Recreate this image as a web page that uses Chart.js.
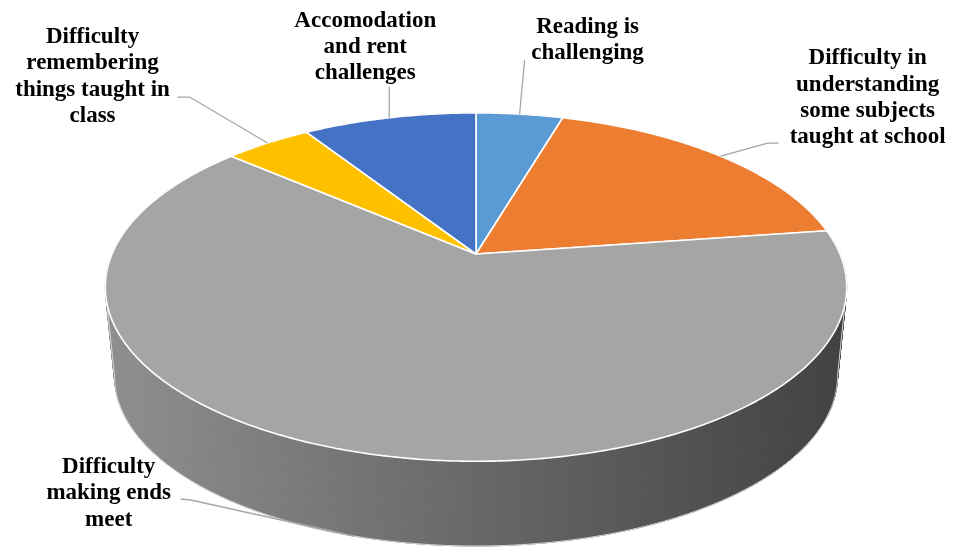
<!DOCTYPE html>
<html>
<head>
<meta charset="utf-8">
<script src="https://cdn.jsdelivr.net/npm/chart.js@4.4.0/dist/chart.umd.min.js"></script>
<style>
  html, body { margin: 0; padding: 0; background: #fff; }
  #wrap { width: 965px; height: 547px; }
</style>
</head>
<body>
<div id="wrap"><canvas id="pie"></canvas></div>
<script>
// slices, clockwise from 12 o'clock
const categories = [
  'Reading is challenging',
  'Difficulty in understanding some subjects taught at school',
  'Difficulty making ends meet',
  'Difficulty remembering things taught in class',
  'Accomodation and rent challenges'
];
const counts = [3, 12, 42, 3, 6];
const sliceColors = ['#5B9BD5', '#ED7D31', '#A5A5A5', '#FFC000', '#4472C4'];
const labelLines = [
  ['Reading is', 'challenging'],
  ['Difficulty in', 'understanding', 'some subjects', 'taught at school'],
  ['Difficulty', 'making ends', 'meet'],
  ['Difficulty', 'remembering', 'things taught in', 'class'],
  ['Accomodation', 'and rent', 'challenges']
];

// 3d look: ellipse radii as fractions of the pie radius, perspective and depth
const tilt = { rx: 1.433, ry: 0.661, persp: -0.19, depth: 0.354, bottomScale: 0.975 };

// label text (centre, first baseline) and leader elbows, relative to the slice anchor
const labelPlace = [
  { text: [68, -81], path: [[5, -54]] },
  { text: [147, -92], path: [[47, -13], [58, -13]] },
  { text: [-245, -63], path: [[-163, -36], [-173, -37]], onWall: true },
  { text: [-175, -100], path: [[-78, -46], [-90, -46]] },
  { text: [-24, -91], path: [[0, -31]] }
];

function project(cx, cy, R, ang, bottom) {
  const u = Math.cos(ang), v = Math.sin(ang);
  const d = 1 + tilt.persp * v;
  const s = bottom ? tilt.bottomScale : 1;
  const oy = bottom ? tilt.depth * R : 0;
  return [cx + s * tilt.rx * R * u / d, cy + oy + s * tilt.ry * R * v / d];
}

function shade(hex, f) {
  const n = parseInt(hex.slice(1), 16);
  const r = Math.round(((n >> 16) & 255) * f);
  const g = Math.round(((n >> 8) & 255) * f);
  const b = Math.round((n & 255) * f);
  return 'rgb(' + r + ',' + g + ',' + b + ')';
}

const pie3d = {
  id: 'pie3d',
  beforeDatasetsDraw(chart) {
    const ctx = chart.ctx;
    const arcs = chart.getDatasetMeta(0).data;
    const cx = arcs[0].x, cy = arcs[0].y, R = arcs[0].outerRadius;
    const step = Math.PI / 180;
    ctx.save();

    // side walls
    arcs.forEach((arc) => {
      const base = arc.options.backgroundColor;
      const g = ctx.createLinearGradient(cx - tilt.rx * R, 0, cx + tilt.rx * R, 0);
      g.addColorStop(0, shade(base, 0.86));
      g.addColorStop(1, shade(base, 0.4));
      ctx.fillStyle = g;
      ctx.strokeStyle = g;
      ctx.lineWidth = 1;
      for (let a = arc.startAngle; a < arc.endAngle; a += step) {
        const b = Math.min(a + step, arc.endAngle);
        if (Math.sin((a + b) / 2) < -0.4) continue;
        const p1 = project(cx, cy, R, a), p2 = project(cx, cy, R, b);
        const p3 = project(cx, cy, R, b, true), p4 = project(cx, cy, R, a, true);
        ctx.beginPath();
        ctx.moveTo(p1[0], p1[1]);
        ctx.lineTo(p2[0], p2[1]);
        ctx.lineTo(p3[0], p3[1]);
        ctx.lineTo(p4[0], p4[1]);
        ctx.closePath();
        ctx.fill();
        ctx.stroke();
      }
    });

    // light outline round the wall
    const t0 = 11 * step, t1 = 169 * step;
    ctx.beginPath();
    let p = project(cx, cy, R, t0);
    ctx.moveTo(p[0], p[1]);
    for (let a = t0; a <= t1; a += step) {
      p = project(cx, cy, R, a, true);
      ctx.lineTo(p[0], p[1]);
    }
    p = project(cx, cy, R, t1);
    ctx.lineTo(p[0], p[1]);
    ctx.strokeStyle = '#d4d4d4';
    ctx.lineWidth = 1;
    ctx.stroke();

    // back rim outline
    ctx.beginPath();
    for (let a = Math.PI; a <= 2 * Math.PI; a += step) {
      p = project(cx, cy, R, a);
      if (a === Math.PI) ctx.moveTo(p[0], p[1]); else ctx.lineTo(p[0], p[1]);
    }
    ctx.strokeStyle = '#cfcfcf';
    ctx.stroke();

    // top faces
    arcs.forEach((arc) => {
      ctx.beginPath();
      ctx.moveTo(cx, cy);
      for (let a = arc.startAngle; a < arc.endAngle; a += step / 2) {
        p = project(cx, cy, R, a);
        ctx.lineTo(p[0], p[1]);
      }
      p = project(cx, cy, R, arc.endAngle);
      ctx.lineTo(p[0], p[1]);
      ctx.closePath();
      ctx.fillStyle = arc.options.backgroundColor;
      ctx.fill();
      ctx.strokeStyle = '#ffffff';
      ctx.lineWidth = 1.6;
      ctx.lineJoin = 'round';
      ctx.stroke();
    });

    // labels with leader lines
    ctx.font = 'bold 23px "Liberation Serif"';
    ctx.textAlign = 'center';
    ctx.textBaseline = 'alphabetic';
    arcs.forEach((arc, i) => {
      const mid = (arc.startAngle + arc.endAngle) / 2;
      const place = labelPlace[i];
      const [ax, ay] = project(cx, cy, R, mid, place.onWall);
      ctx.beginPath();
      ctx.moveTo(ax, ay);
      place.path.forEach((q) => ctx.lineTo(ax + q[0], ay + q[1]));
      ctx.strokeStyle = '#a6a6a6';
      ctx.lineWidth = 1.3;
      ctx.stroke();
      ctx.fillStyle = '#000';
      labelLines[i].forEach((t, k) => {
        ctx.fillText(t, ax + place.text[0], ay + place.text[1] + k * 26.3);
      });
    });

    ctx.restore();
    return false;
  }
};

new Chart(document.getElementById('pie'), {
  type: 'pie',
  data: {
    labels: categories,
    datasets: [{
      data: counts,
      backgroundColor: sliceColors,
      borderWidth: 0
    }]
  },
  options: {
    responsive: true,
    maintainAspectRatio: false,
    animation: false,
    events: [],
    layout: { padding: { top: 0, bottom: 39, left: 0, right: 13 } },
    plugins: {
      legend: { display: false },
      tooltip: { enabled: false }
    }
  },
  plugins: [pie3d]
});
</script>
</body>
</html>
